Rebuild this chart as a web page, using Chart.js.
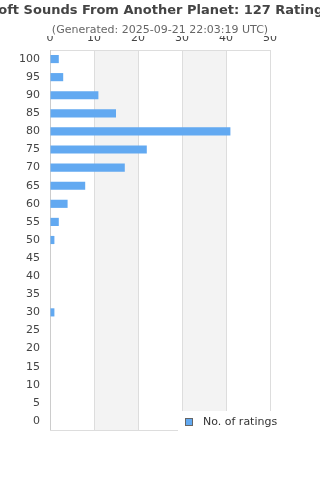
<!DOCTYPE html>
<html>
<head>
<meta charset="utf-8">
<script src="https://cdn.jsdelivr.net/npm/chart.js@4/dist/chart.umd.min.js"></script>
<style>
    html, body { margin: 0; padding: 0; background: #fff; }
    #wrap { width: 320px; height: 480px; position: relative; }
</style>
</head>
<body>
<div id="wrap"><canvas id="chart" width="320" height="480"></canvas></div>
<script>
const chartTitle = "Soft Sounds From Another Planet: 127 Ratings";
const chartSubtitle = "(Generated: 2025-09-21 22:03:19 UTC)";
const scoreLabels = ["100", "95", "90", "85", "80", "75", "70", "65", "60", "55", "50",
    "45", "40", "35", "30", "25", "20", "15", "10", "5", "0"];
const ratingCounts = [2, 3, 11, 15, 41, 22, 17, 8, 4, 2, 1, 0, 0, 0, 1, 0, 0, 0, 0, 0, 0];
const seriesName = "No. of ratings";
const xMin = 0;
const xMax = 50;
const xStep = 10;

const barColor = "#62a9f1";
const fontFamily = "'DejaVu Sans', sans-serif";

// grey bands behind every second x interval, plus the box round the plot
const bandsPlugin = {
    id: "bands",
    beforeDraw: function (chart) {
        const ctx = chart.ctx;
        const area = chart.chartArea;
        const xScale = chart.scales.x;
        ctx.save();
        ctx.fillStyle = "#f3f3f3";
        for (let v = xMin + xStep; v < xMax; v += 2 * xStep) {
            const x1 = xScale.getPixelForValue(v);
            const x2 = xScale.getPixelForValue(v + xStep);
            ctx.fillRect(x1, area.top, x2 - x1, area.bottom - area.top);
        }
        ctx.restore();
    },
    afterDraw: function (chart) {
        const ctx = chart.ctx;
        const area = chart.chartArea;
        ctx.save();
        ctx.strokeStyle = "#dddddd";
        ctx.lineWidth = 1;
        ctx.beginPath();
        ctx.moveTo(area.right + 0.5, area.top);
        ctx.lineTo(area.right + 0.5, area.bottom + 0.5);
        ctx.lineTo(area.left, area.bottom + 0.5);
        ctx.stroke();

        // title and subtitle
        ctx.textAlign = "center";
        ctx.textBaseline = "middle";
        ctx.fillStyle = "#444444";
        ctx.font = "bold 13px " + fontFamily;
        ctx.fillText(chartTitle, chart.width / 2, 11);
        ctx.fillStyle = "#666666";
        ctx.font = "11px " + fontFamily;
        ctx.fillText(chartSubtitle, chart.width / 2, 30);

        // legend sitting over the lower right of the plot
        const lx = 178;
        const ly = 411;
        ctx.fillStyle = "#ffffff";
        ctx.fillRect(lx, ly, chart.width - lx, 24);
        ctx.fillStyle = barColor;
        ctx.fillRect(186, 419, 6, 6);
        ctx.strokeStyle = "#666666";
        ctx.strokeRect(185.5, 418.5, 7, 7);
        ctx.textAlign = "left";
        ctx.fillStyle = "#333333";
        ctx.font = "11px " + fontFamily;
        ctx.fillText(seriesName, 203, 422);
        ctx.restore();
    }
};

new Chart(document.getElementById("chart"), {
    type: "bar",
    data: {
        labels: scoreLabels,
        datasets: [
            {
                label: seriesName,
                data: ratingCounts,
                backgroundColor: barColor,
                borderWidth: 0,
                categoryPercentage: 1,
                barPercentage: 0.45
            }
        ]
    },
    options: {
        indexAxis: "y",
        responsive: false,
        animation: false,
        events: [],
        layout: {
            padding: { top: 36, left: 0, right: 50, bottom: 50 }
        },
        plugins: {
            legend: { display: false },
            title: { display: false },
            tooltip: { enabled: false }
        },
        scales: {
            x: {
                position: "top",
                min: xMin,
                max: xMax,
                ticks: {
                    stepSize: xStep,
                    padding: 5,
                    color: "#444444",
                    font: { family: fontFamily, size: 11 }
                },
                grid: {
                    color: "#dddddd",
                    drawTicks: false
                },
                border: { color: "#dddddd" },
                afterFit: function (scale) {
                    scale.height = 14;
                }
            },
            y: {
                ticks: {
                    autoSkip: false,
                    padding: 10,
                    color: "#444444",
                    font: { family: fontFamily, size: 11 }
                },
                grid: { display: false, drawTicks: false },
                border: { color: "#cccccc" },
                afterFit: function (scale) {
                    scale.width = 50;
                }
            }
        }
    },
    plugins: [bandsPlugin]
});
</script>
</body>
</html>
